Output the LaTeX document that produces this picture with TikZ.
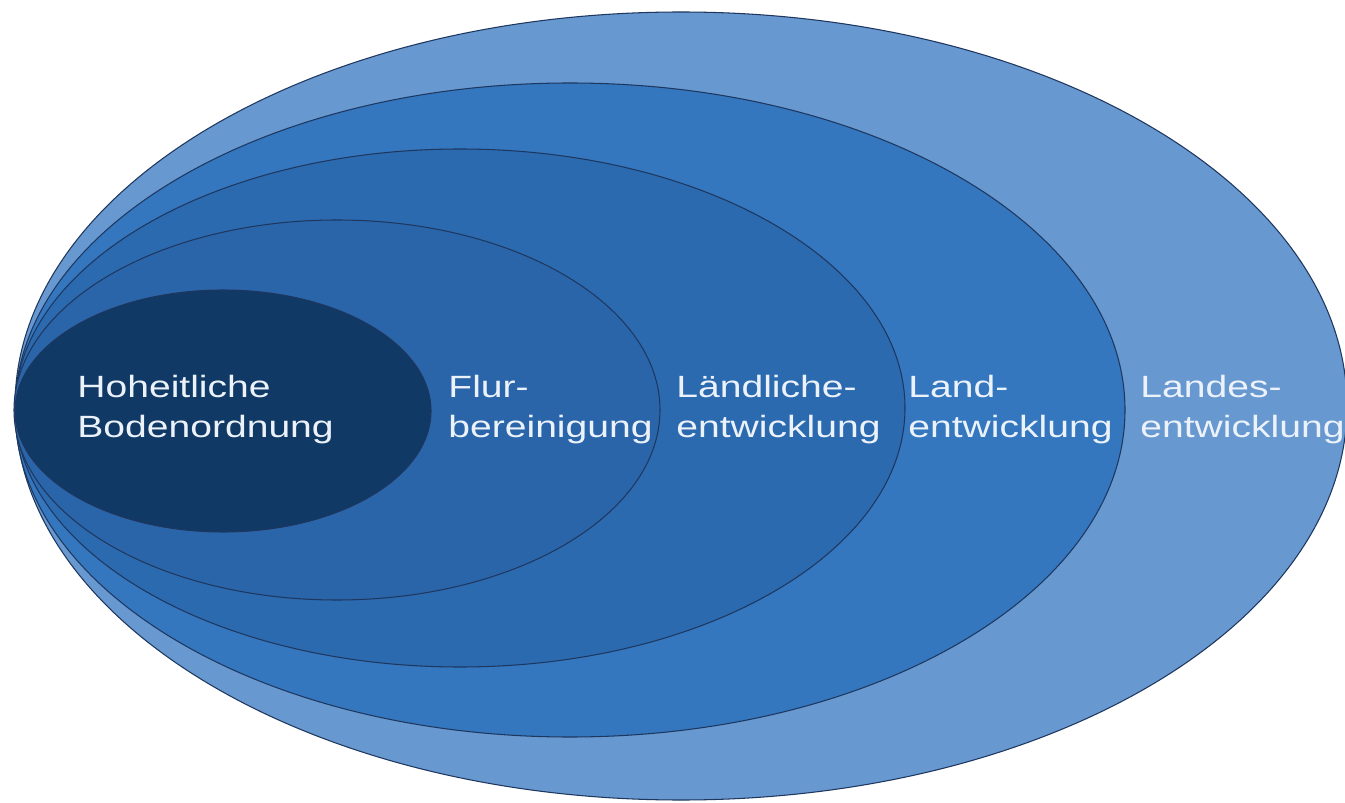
\documentclass[tikz,border=0pt]{standalone}
\usepackage{fontspec}
\setmainfont{Liberation Sans}
\definecolor{ringA}{RGB}{104,152,208}
\definecolor{ringB}{RGB}{52,119,190}
\definecolor{ringC}{RGB}{44,106,176}
\definecolor{ringD}{RGB}{42,101,170}
\definecolor{ringE}{RGB}{16,57,101}
\definecolor{rimline}{RGB}{30,55,95}
\definecolor{labeltext}{RGB}{236,242,250}
\tikzset{
  ring/.style={draw=rimline, line width=0.6pt, fill=#1},
  ringlabel/.style={anchor=north west, inner sep=0pt, align=left, xscale=1.27,
    text=labeltext, font=\fontsize{17.5}{22.8}\selectfont}
}
\begin{document}
\begin{tikzpicture}
\useasboundingbox (0,0) rectangle (26.9,16.04);
\fill[white] (0,0) rectangle (26.9,16.04);
% rings, outside in
\draw[ring=ringA] (13.62,7.92) ellipse [x radius=13.32, y radius=7.88];
\draw[ring=ringB] (11.4,7.84) ellipse [x radius=11.1, y radius=6.54];
\draw[ring=ringC] (9.2,7.88) ellipse [x radius=8.9, y radius=5.18];
\draw[ring=ringD] (6.74,7.84) ellipse [x radius=6.46, y radius=3.8];
\draw[ring=ringE] (4.46,7.82) ellipse [x radius=4.16, y radius=2.42];
% labels
\node[ringlabel] (hoheit) at (1.54,8.54) {Hoheitliche\\Bodenordnung};
\node[ringlabel] (flur) at (8.96,8.54) {Flur-\\bereinigung};
\node[ringlabel] (laendl) at (13.52,8.54) {Ländliche-\\entwicklung};
\node[ringlabel] (landentw) at (18.16,8.54) {Land-\\entwicklung};
\node[ringlabel] (landesentw) at (22.8,8.54) {Landes-\\entwicklung};
\end{tikzpicture}
\end{document}
